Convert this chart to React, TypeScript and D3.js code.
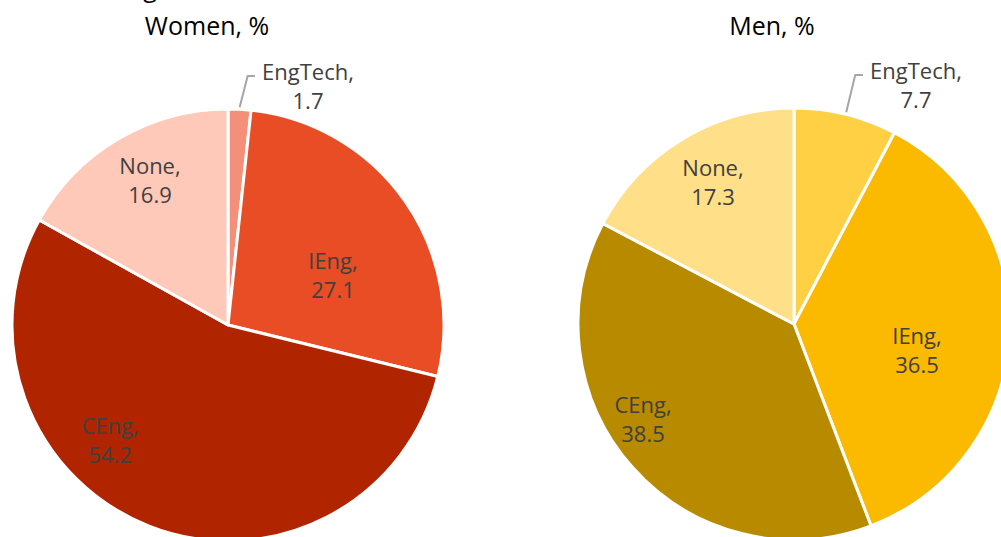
import React from "react";
import * as d3 from "d3";

const categories = ["EngTech", "IEng", "CEng", "None"];
const womenValues = [1.7, 27.1, 54.2, 16.9];
const menValues = [7.7, 36.5, 38.5, 17.3];
const womenColors = ["#F4907A", "#E84D25", "#B02400", "#FFC9BA"];
const menColors = ["#FFD044", "#FBB900", "#B88A00", "#FFDF87"];
const womenLabels = ["1.7", "27.1", "54.2", "16.9"];
const menLabels = ["7.7", "36.5", "38.5", "17.3"];

// label offsets relative to pie centre (layout only)
const womenLabelPos: [number, number][] = [[80, -245], [105, -56], [-118, 109], [-78, -151]];
const menLabelPos: [number, number][] = [[122, -245], [123, 20], [-151, 89], [-81, -148]];

const W = 1001;
const H = 537;
const R = 216;
const FONT = "'Open Sans', Lato, sans-serif";

function Pie({ cx, cy, values, colors, labels, labelPos, title, titleX, leader }: any) {
  const pie = d3.pie<number>().sort(null).value((d) => d);
  const arcs = pie(values);
  const arc = d3.arc<d3.PieArcDatum<number>>().innerRadius(0).outerRadius(R);
  const outerArc = d3.arc<d3.PieArcDatum<number>>().innerRadius(R + 2).outerRadius(R + 2);
  const a0 = arcs[0];
  const p0 = outerArc.centroid(a0);
  const lp = labelPos[0];
  return (
    <g>
      <text x={titleX} y={35} textAnchor="middle" fontSize={25} fill="#000" fontFamily={FONT}>{title}</text>
      <g transform={`translate(${cx},${cy})`}>
        {arcs.map((a, i) => (
          <path key={i} d={arc(a) as string} fill={colors[i]} stroke="#fff" strokeWidth={3} strokeLinejoin="round" />
        ))}
        <polyline
          points={`${p0[0]},${p0[1]} ${p0[0] + leader[0]},${lp[1] - 4} ${lp[0] - 53},${lp[1] - 4}`}
          fill="none"
          stroke="#A6A6A6"
          strokeWidth={2}
        />
        {arcs.map((a, i) => (
          <text key={"t" + i} x={labelPos[i][0]} y={labelPos[i][1]} textAnchor="middle" fontSize={22} fill="#404040" fontFamily={FONT}>
            <tspan x={labelPos[i][0]} dy={0}>{categories[i]},</tspan>
            <tspan x={labelPos[i][0]} dy={29}>{labels[i]}</tspan>
          </text>
        ))}
      </g>
    </g>
  );
}

export default function App() {
  return (
    <svg width={W} height={H} style={{ position: "absolute", left: 0, top: 0, background: "#fff" }}>
      <text x={150} y={-3} textAnchor="middle" fontSize={25} fill="#000" fontFamily={FONT}>g</text>
      <Pie cx={228} cy={325} values={womenValues} colors={womenColors} labels={womenLabels} labelPos={womenLabelPos} title="Women, %" titleX={207} leader={[8, 0]} />
      <Pie cx={794} cy={324} values={menValues} colors={menColors} labels={menLabels} labelPos={menLabelPos} title="Men, %" titleX={772} leader={[9, 0]} />
    </svg>
  );
}
